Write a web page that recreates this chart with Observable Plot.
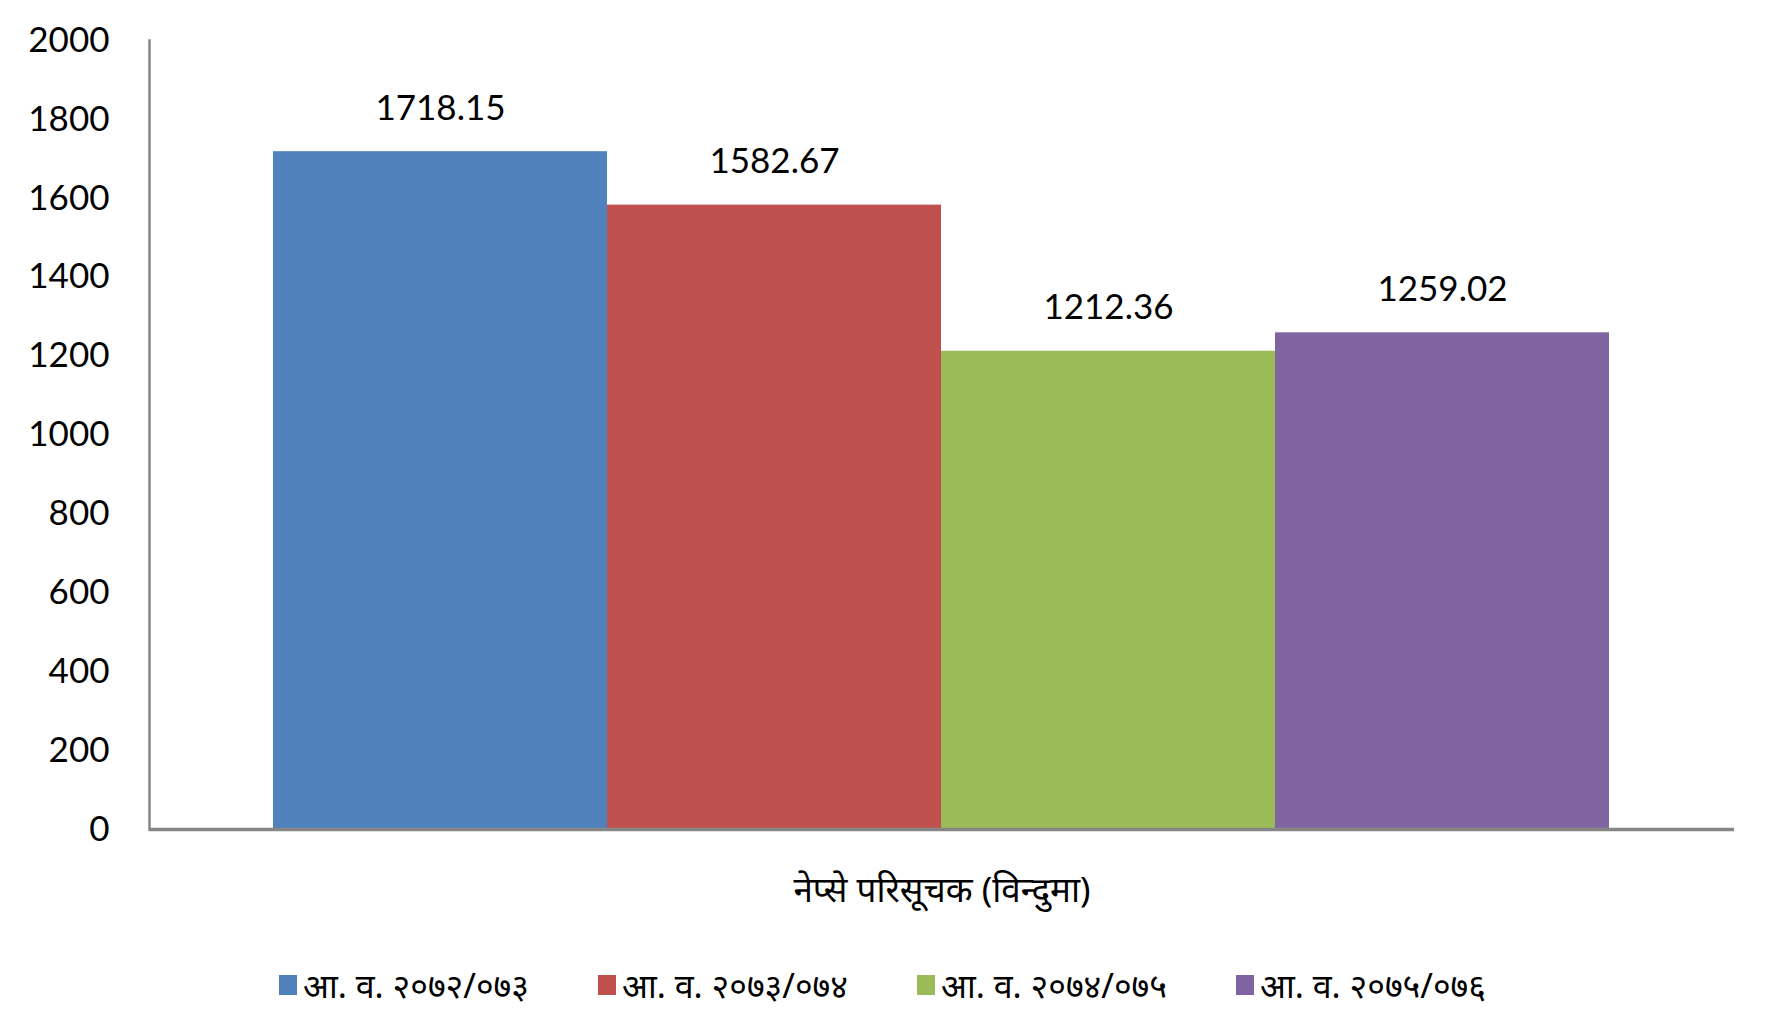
<!DOCTYPE html>
<html>
<head>
<meta charset="utf-8">
<script src="https://cdn.jsdelivr.net/npm/d3@7"></script>
<script src="https://cdn.jsdelivr.net/npm/@observablehq/plot@0.6"></script>
<style>
  html, body { margin: 0; padding: 0; background: #fff; }
  #chart { position: relative; width: 1773px; }
  #legend { position: relative; width: 1773px; height: 85px; margin-top: -8px; }
  .item { position: absolute; top: 0; height: 85px; display: flex; align-items: center;
          font-family: "Noto Sans", Lato, sans-serif; font-size: 34px; color: #000; white-space: nowrap; }
  .sw { width: 18px; height: 20px; margin-right: 6px; }
</style>
</head>
<body>
<div id="chart"></div>
<div id="legend"></div>
<script>
const series = ["आ. व. २०७२/०७३", "आ. व. २०७३/०७४", "आ. व. २०७४/०७५", "आ. व. २०७५/०७६"];
const values = [1718.15, 1582.67, 1212.36, 1259.02];
const labels = ["1718.15", "1582.67", "1212.36", "1259.02"];
const colors = ["#4F81BD", "#C0504D", "#9BBB59", "#8064A2"];
const yTicks = [0, 200, 400, 600, 800, 1000, 1200, 1400, 1600, 1800, 2000];
const xTitle = "नेप्से परिसूचक (विन्दुमा)";

const data = series.map((s, i) => ({series: s, value: values[i], label: labels[i]}));

const plot = Plot.plot({
  width: 1773,
  height: 950,
  marginTop: 40,
  marginBottom: 121,
  marginLeft: 149,
  marginRight: 39,
  style: {fontFamily: "Lato, 'Open Sans', sans-serif", fontSize: "35px", color: "#000", background: "#fff"},
  x: {domain: series, padding: 0, insetLeft: 123, insetRight: 125, axis: null},
  y: {domain: [0, 2000], ticks: yTicks, label: null},
  color: {domain: series, range: colors},
  marks: [
    Plot.barY(data, {x: "series", y: "value", fill: "series"}),
    Plot.text(data, {x: "series", y: "value", text: "label", dy: -43, lineAnchor: "middle", fontSize: 35, fill: "#000"}),
    Plot.axisY({ticks: yTicks, tickFormat: d => String(d), tickSize: 0, tickPadding: 40, fontSize: 35, label: null, fill: "#000"}),
    Plot.frame({anchor: "left", stroke: "#868686", strokeWidth: 2.5}),
    Plot.ruleY([0], {stroke: "#868686", strokeWidth: 3.5}),
    Plot.text([xTitle], {frameAnchor: "bottom", dy: 61, lineAnchor: "middle", fontSize: 35, fill: "#000",
      fontFamily: "'Noto Sans', sans-serif"})
  ]
});
document.getElementById("chart").appendChild(plot);

const legend = d3.select("#legend");
const legendX = [279, 598, 917, 1236];
series.forEach((s, i) => {
  const it = legend.append("div").attr("class", "item").style("left", legendX[i] + "px");
  it.append("div").attr("class", "sw").style("background", colors[i]);
  it.append("span").text(s);
});
</script>
</body>
</html>
